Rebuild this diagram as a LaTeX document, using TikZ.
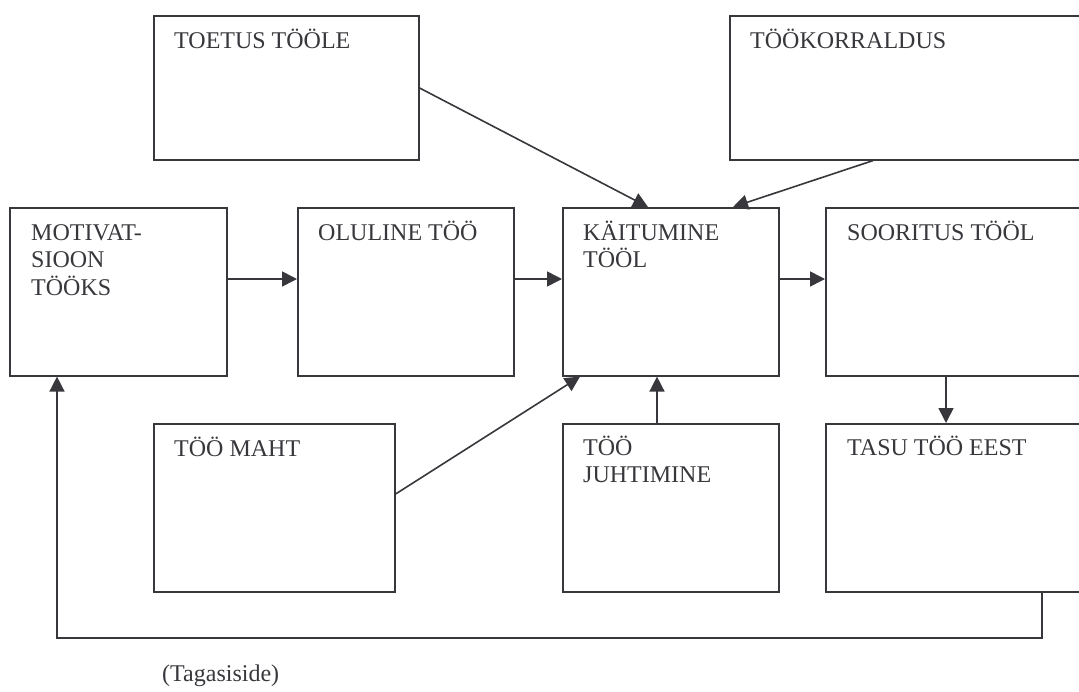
\documentclass[tikz,border=0pt]{standalone}
\usepackage{fontspec}
\setmainfont{Liberation Serif}
\usepackage{tikz}
\usetikzlibrary{arrows.meta, positioning}
\definecolor{ink}{RGB}{55,55,60}
\newcommand{\lines}[1]{\begin{tabular}[t]{@{}l@{}}#1\end{tabular}}

\begin{document}
\begin{tikzpicture}[x=1pt, y=-1pt,
  box/.style={draw=ink, line width=1.6pt, anchor=north west, inner sep=0pt},
  lbl/.style={anchor=base west, inner sep=0pt, text=ink,
    font=\fontsize{24}{27.5}\selectfont},
  arr/.style={draw=ink, line width=1.6pt, -{Triangle[length=15pt, width=15pt]}}]
  \clip (0,0) rectangle (1079,691);
  % boxes
  \node[box, minimum width=265, minimum height=144] (toe) at (153,15) {};
  \node[box, minimum width=400, minimum height=144] (tko) at (729,15) {};
  \node[box, minimum width=217, minimum height=168] (mot) at (9,207) {};
  \node[box, minimum width=216, minimum height=168] (olu) at (297,207) {};
  \node[box, minimum width=216, minimum height=168] (kai) at (562,207) {};
  \node[box, minimum width=300, minimum height=168] (soo) at (825,207) {};
  \node[box, minimum width=241, minimum height=168] (mah) at (153,423) {};
  \node[box, minimum width=216, minimum height=168] (juh) at (562,423) {};
  \node[box, minimum width=300, minimum height=168] (tas) at (825,423) {};
  % texts
  \node[lbl] (toeT) at ([shift={(21,33)}]toe.north west) {TOETUS TÖÖLE};
  \node[lbl] (tkoT) at ([shift={(21,33)}]tko.north west) {TÖÖKORRALDUS};
  \node[lbl] (motT) at ([shift={(22,33)}]mot.north west) {\lines{MOTIVAT-\\SIOON\\TÖÖKS}};
  \node[lbl] (oluT) at ([shift={(21,33)}]olu.north west) {OLULINE TÖÖ};
  \node[lbl] (kaiT) at ([shift={(21,33)}]kai.north west) {\lines{KÄITUMINE\\TÖÖL}};
  \node[lbl] (sooT) at ([shift={(22,33)}]soo.north west) {SOORITUS TÖÖL};
  \node[lbl] (mahT) at ([shift={(21,33)}]mah.north west) {TÖÖ MAHT};
  \node[lbl] (juhT) at ([shift={(21,32)}]juh.north west) {\lines{TÖÖ\\JUHTIMINE}};
  \node[lbl] (tasT) at ([shift={(22,32)}]tas.north west) {TASU TÖÖ EEST};
  \node[lbl] (fbT) at (162,681) {(Tagasiside)};
  % arrows
  \draw[arr] ([yshift=-72pt]mot.north east) -- ([yshift=-72pt]olu.north west);
  \draw[arr] ([yshift=-72pt]olu.north east) -- ([yshift=-72pt]kai.north west);
  \draw[arr] ([yshift=-72pt]kai.north east) -- ([yshift=-72pt]soo.north west);
  \draw[arr] ([yshift=-73pt]toe.north east) -- ([xshift=86pt]kai.north west);
  \draw[arr] ([xshift=144pt]tko.south west) -- ([xshift=171pt]kai.north west);
  \draw[arr] ([yshift=-71pt]mah.north east) -- ([xshift=18pt]kai.south west);
  \draw[arr] ([xshift=95pt]juh.north west) -- ([xshift=95pt]kai.south west);
  \draw[arr] ([xshift=121pt]soo.south west) -- ([xshift=121pt]tas.north west);
  \coordinate (fbk) at (57,638);
  \draw[arr] ([xshift=217pt]tas.south west) |- (fbk) -- ([xshift=48pt]mot.south west);
\end{tikzpicture}
\end{document}
